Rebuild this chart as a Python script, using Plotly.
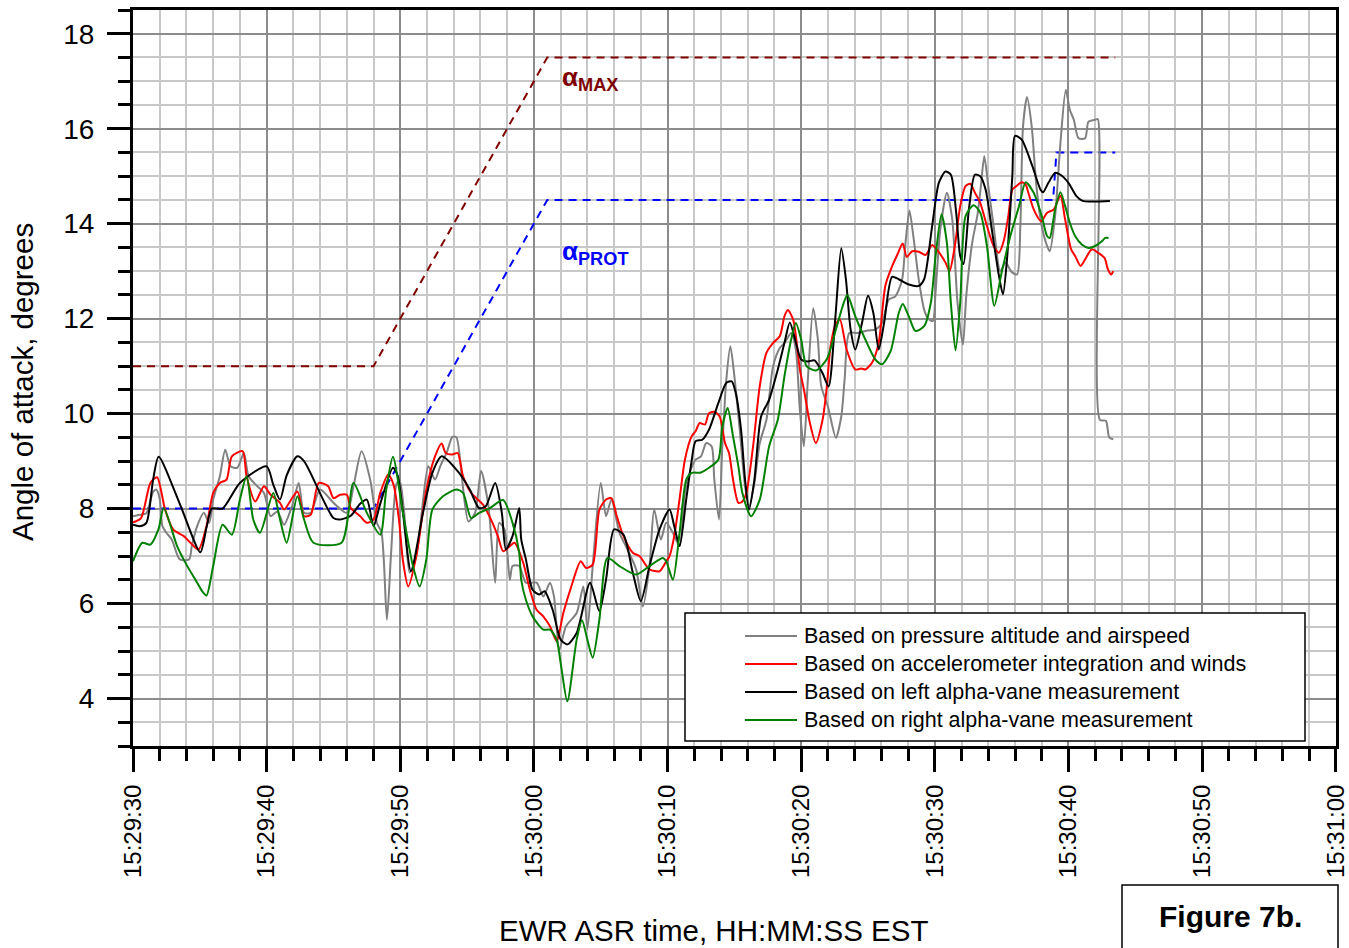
import pandas as pd
import plotly.graph_objects as go

# ---- time base: seconds after 15:29:30 EST ----
BASE = pd.Timestamp("2009-01-15 15:29:30")

# alpha limits (dashed)
ALPHA_MAX_T = [0, 18, 31, 73.5]
ALPHA_MAX_V = [11, 11, 17.5, 17.5]
ALPHA_PROT_T = [0, 18, 31, 68.85, 69.1, 73.5]
ALPHA_PROT_V = [8, 8, 14.5, 14.5, 15.5, 15.5]

# Based on pressure altitude and airspeed
PRESS_T = [0, 0.5, 1.0, 1.5, 1.75, 2.0, 2.2, 2.5, 2.9, 3.5, 4.2, 4.4, 4.8, 5.3, 5.7, 6.0, 6.5, 6.9,
           7.3, 7.8, 8.3, 8.65, 9.3, 9.8, 10.3, 10.8, 11.3, 11.9, 12.4, 12.8, 13.3, 14.0, 15.0, 16.0,
           16.5, 17.1, 17.75, 18.25, 18.6, 19.0, 19.3, 19.7, 19.95, 20.3, 20.7, 21.2, 21.6, 22.1,
           22.6, 23.0, 23.5, 23.9, 24.2, 24.6, 25.1, 25.6, 26.05, 26.6, 27.1, 27.4, 27.8, 28.2, 28.4,
           28.9, 29.4, 30.2, 30.7, 31.2, 31.5, 31.9, 32.4, 33.2, 33.7, 34.0, 34.4, 35.0, 35.4, 35.8,
           36.4, 37.0, 37.65, 38.15, 38.65, 39.0, 39.5, 39.9, 40.4, 40.9, 41.3, 41.65, 42.1, 42.5,
           42.9, 43.3, 43.5, 43.85, 44.1, 44.4, 44.7, 45.0, 45.4, 45.8, 46.1, 46.5, 46.9, 47.4, 47.9,
           48.4, 48.75, 49.25, 49.6, 49.9, 50.2, 50.5, 50.9, 51.25, 51.5, 52.0, 52.6, 53.0, 53.25,
           53.6, 54.2, 55.0, 55.55, 56.05, 56.55, 57.05, 57.55, 57.8, 58.1, 58.4, 58.8, 59.2, 59.5,
           59.85, 60.05, 60.4, 60.9, 61.3, 61.7, 62.1, 62.35, 62.8, 63.2, 63.45, 63.7, 64.0, 64.4,
           64.9, 65.3, 65.7, 66.15, 66.4, 66.6, 66.9, 67.25, 67.6, 68.0, 68.4, 68.6, 69.0, 69.4,
           69.8, 70.1, 70.4, 70.75, 71.25, 71.5, 72.0, 72.2, 72.35, 72.8, 73.05, 73.35]
PRESS_V = [7.84, 7.87, 7.9, 8.35, 8.4, 8.2, 7.63, 7.49, 7.35, 6.93, 6.93, 7.21, 7.63, 7.91, 7.7, 8.19,
           8.68, 9.24, 8.89, 8.86, 9.17, 8.68, 8.47, 8.33, 7.84, 7.94, 7.66, 8.05, 8.54, 7.91, 7.91,
           8.4, 8.12, 7.91, 8.47, 9.21, 8.61, 7.7, 7.49, 5.66, 7.0, 8.5, 8.6, 7.9, 6.65, 7.0, 7.9,
           8.89, 8.61, 8.9, 9.2, 9.51, 9.5, 8.68, 7.73, 7.91, 8.79, 8.05, 6.44, 7.7, 7.56, 6.5, 6.79,
           6.79, 6.44, 6.44, 6.15, 6.44, 6.15, 5.03, 5.52, 5.8, 6.36, 5.45, 6.79, 8.54, 7.84, 8.19,
           7.49, 7.14, 6.72, 5.94, 6.79, 7.98, 7.35, 7.7, 7.49, 7.21, 8.33, 8.75, 9.03, 9.1, 9.38,
           9.31, 8.61, 7.77, 9.31, 10.72, 11.42, 10.79, 9.66, 8.47, 8.05, 8.54, 9.38, 9.87, 11.0,
           11.38, 11.49, 11.7, 11.35, 10.08, 9.31, 10.72, 12.22, 11.56, 10.58, 10.15, 9.49, 9.94,
           10.72, 11.7, 11.7, 11.75, 11.77, 11.91, 12.4, 12.47, 12.82, 13.58, 14.28, 13.72, 12.82,
           12.19, 12.0, 11.95, 12.54, 13.86, 14.65, 14.1, 12.33, 11.45, 12.47, 13.6, 14.2, 14.8,
           15.42, 14.79, 13.95, 13.0, 13.18, 13.0, 12.93, 13.95, 16.05, 16.67, 16.05, 14.79, 13.95,
           13.53, 13.42, 14.16, 15.7, 16.82, 16.4, 16.19, 15.8, 15.8, 16.15, 16.19, 16.2, 9.87,
           9.85, 9.5, 9.46]

# Based on accelerometer integration and winds
ACCEL_T = [0, 0.6, 1.3, 1.8, 2.4, 3.0, 3.8, 4.3, 4.9, 5.5, 6.0, 6.5, 7.0, 7.4, 8.2, 8.5, 9.15, 9.8,
           10.3, 11.0, 11.3, 12.3, 12.8, 13.3, 13.9, 14.6, 15.0, 15.5, 16.0, 16.3, 17.0, 17.5, 18.0,
           18.5, 19.1, 19.5, 19.9, 20.2, 20.6, 21.2, 21.95, 22.6, 23.1, 23.4, 23.9, 24.3, 24.7, 25.3,
           26.2, 26.9, 27.3, 27.7, 28.2, 28.55, 29.2, 29.7, 30.2, 30.7, 31.2, 31.7, 32.2, 32.8, 33.5,
           33.9, 34.4, 34.9, 35.4, 35.8, 36.2, 36.7, 37.4, 37.9, 38.65, 39.4, 39.9, 40.15, 40.5,
           40.9, 41.3, 41.8, 42.1, 42.4, 42.8, 43.1, 43.5, 43.9, 44.3, 44.6, 44.9, 45.3, 45.6, 45.9,
           46.4, 46.9, 47.4, 47.9, 48.4, 48.75, 49.0, 49.4, 49.9, 50.25, 50.6, 51.1, 51.6, 51.9,
           52.2, 52.6, 52.9, 53.4, 54.05, 54.5, 54.8, 55.3, 55.8, 56.3, 56.8, 57.2, 57.6, 57.9, 58.3,
           58.8, 59.3, 59.8, 60.3, 60.8, 61.1, 61.5, 61.9, 62.3, 62.65, 63.0, 63.4, 63.9, 64.4, 64.8,
           65.15, 65.5, 65.8, 66.1, 66.5, 66.8, 67.0, 67.4, 67.95, 68.4, 68.9, 69.4, 69.75, 70.2,
           70.5, 70.9, 71.25, 71.75, 72.2, 72.7, 72.95, 73.2, 73.35]
ACCEL_V = [7.71, 7.8, 8.54, 8.66, 7.98, 7.56, 7.42, 7.28, 7.14, 7.63, 8.33, 8.54, 8.61, 9.1, 9.21,
           8.68, 8.15, 8.47, 8.29, 8.12, 7.98, 8.36, 7.84, 7.87, 8.54, 8.47, 8.22, 8.29, 8.29, 8.01,
           7.84, 7.7, 7.77, 8.33, 8.72, 8.5, 7.77, 6.9, 6.36, 7.0, 8.4, 9.1, 9.37, 9.17, 9.14, 9.17,
           8.68, 8.33, 8.08, 7.7, 7.42, 7.1, 7.21, 7.28, 6.86, 6.29, 5.87, 5.73, 5.52, 5.21, 5.8,
           6.36, 6.89, 6.75, 6.82, 7.98, 8.19, 8.22, 7.84, 7.42, 7.07, 7.0, 6.72, 6.68, 6.89, 7.0,
           7.42, 8.2, 9.03, 9.52, 9.63, 9.8, 9.77, 10.01, 10.04, 9.94, 9.38, 9.17, 8.61, 8.12, 8.15,
           8.33, 9.31, 10.58, 11.28, 11.49, 11.63, 12.05, 12.18, 11.98, 10.93, 10.44, 9.87, 9.38,
           9.87, 10.51, 11.42, 11.9, 11.98, 11.35, 10.93, 10.95, 10.93, 11.07, 11.49, 12.7, 13.1,
           13.35, 13.58, 13.3, 13.42, 13.41, 13.34, 13.55, 13.4, 13.18, 13.0, 13.53, 14.37, 14.79,
           14.84, 14.65, 14.44, 13.95, 13.53, 13.39, 13.63, 14.16, 14.72, 14.79, 14.87, 14.82,
           14.65, 14.3, 14.05, 14.23, 14.3, 14.59, 14.09, 13.46, 13.32, 13.11, 13.25, 13.46, 13.39,
           13.28, 13.04, 12.93, 13.0]

# Based on left alpha-vane measurement
LEFT_T = [0, 0.5, 1.0, 1.5, 1.92, 3.5, 5.04, 5.5, 5.9, 6.7, 8.0, 10.0, 10.5, 11.0, 11.5, 12.3, 12.8,
          15.0, 15.5, 16.3, 17.0, 17.5, 18.0, 18.5, 19.45, 19.8, 20.2, 20.8, 21.7, 22.4, 23.1,
          24.4, 25.2, 25.9, 26.4, 27.1, 27.6, 27.9, 28.4, 28.9, 29.05, 29.4, 29.9, 30.4, 30.8,
          31.4, 32.0, 32.5, 33.2, 34.2, 34.9, 35.4, 36.0, 36.7, 37.4, 38.0, 38.65, 39.4, 40.15,
          40.5, 40.9, 41.4, 41.8, 42.1, 42.6, 43.1, 43.8, 44.4, 44.8, 45.1, 45.5, 45.8, 46.1, 46.5,
          47.0, 47.6, 48.25, 48.75, 49.15, 49.6, 50.0, 50.5, 51.0, 51.6, 52.05, 52.55, 53.0, 53.35,
          53.7, 54.05, 54.55, 55.0, 55.4, 55.8, 56.2, 56.8, 57.3, 58.05, 58.8, 59.2, 59.8, 60.3,
          60.8, 61.2, 61.6, 61.9, 62.15, 62.55, 63.0, 63.4, 63.8, 64.3, 64.8, 65.1, 65.4, 65.8,
          66.0, 66.5, 67.3, 67.9, 68.1, 68.5, 69.0, 69.4, 70.0, 70.6, 71.05, 73.1]
LEFT_V = [7.66, 7.63, 7.7, 8.6, 9.09, 8.1, 7.08, 7.6, 8.0, 8.0, 8.54, 8.89, 8.5, 8.19, 8.7, 9.1, 9.0,
          7.8, 7.77, 7.85, 8.1, 8.19, 7.63, 8.1, 8.86, 8.7, 7.91, 6.68, 7.91, 8.75, 9.1, 8.75, 8.4,
          8.01, 8.05, 8.54, 7.91, 7.14, 7.42, 8.01, 7.35, 6.93, 6.29, 6.19, 6.26, 5.87, 5.24, 5.14,
          5.38, 6.44, 5.84, 6.51, 7.56, 7.45, 6.65, 6.05, 6.79, 7.56, 7.98, 7.63, 7.21, 8.2, 9.0,
          9.42, 9.45, 9.66, 10.22, 10.65, 10.68, 10.44, 9.66, 8.61, 7.98, 8.61, 9.94, 10.29, 10.93,
          11.49, 11.92, 11.5, 11.14, 11.1, 11.12, 10.85, 10.57, 12.0, 13.48, 12.82, 11.77, 11.35,
          11.91, 12.48, 12.12, 11.35, 11.9, 12.88, 12.83, 12.72, 12.69, 12.83, 13.95, 14.86, 15.1,
          15.03, 14.23, 13.32, 13.15, 14.3, 15.03, 15.0, 14.72, 13.81, 12.9, 12.51, 13.25, 15.0,
          15.85, 15.77, 15.21, 14.72, 14.66, 14.86, 15.07, 15.03, 14.86, 14.58, 14.48, 14.48]

# Based on right alpha-vane measurement
RIGHT_T = [0, 0.7, 1.3, 1.9, 2.3, 3.3, 4.0, 4.8, 5.2, 5.5, 6.0, 6.7, 7.4, 8.0, 8.5, 9.0, 9.5, 10.5,
           11.0, 11.5, 12.3, 12.8, 13.5, 15.6, 16.5, 17.5, 18.5, 18.95, 19.45, 20.2, 20.95, 21.45,
           21.95, 22.4, 23.2, 24.2, 24.7, 25.3, 25.9, 26.7, 27.7, 28.4, 28.9, 29.05, 29.4, 29.9,
           30.7, 31.2, 31.7, 32.0, 32.5, 33.2, 33.6, 34.0, 34.4, 34.9, 35.5, 36.4, 37.65, 38.65,
           39.65, 39.9, 40.4, 40.9, 41.4, 41.8, 42.5, 43.1, 43.8, 44.1, 44.5, 44.9, 45.3, 45.6,
           46.25, 46.9, 47.6, 48.25, 48.75, 49.25, 49.6, 50.0, 50.4, 51.1, 51.9, 52.6, 53.1, 53.45,
           54.05, 54.8, 55.55, 56.05, 56.7, 57.3, 57.6, 58.05, 58.55, 59.2, 59.7, 60.05, 60.5, 60.9,
           61.2, 61.55, 61.9, 62.3, 62.9, 63.4, 63.9, 64.45, 65.0, 65.65, 66.3, 66.8, 67.4, 68.0,
           68.4, 68.6, 69.0, 69.4, 69.75, 70.1, 70.5, 71.0, 71.5, 72.0, 72.5, 72.75, 73.0]
RIGHT_V = [6.89, 7.28, 7.24, 7.56, 8.01, 7.21, 6.82, 6.44, 6.25, 6.17, 6.79, 7.66, 7.45, 8.19, 8.68,
           7.77, 7.49, 8.33, 7.77, 7.28, 8.26, 7.77, 7.28, 7.28, 8.54, 7.91, 7.45, 8.4, 9.09, 7.91,
           6.79, 6.36, 6.93, 7.98, 8.26, 8.4, 8.33, 7.8, 7.91, 8.01, 8.18, 7.7, 7.07, 6.5, 6.08,
           5.73, 5.45, 5.45, 5.24, 4.75, 3.94, 5.24, 5.65, 5.24, 4.86, 5.66, 6.96, 6.79, 6.61, 6.79,
           6.96, 6.89, 6.5, 7.49, 8.61, 8.75, 8.76, 8.86, 9.03, 9.73, 10.12, 9.52, 8.89, 8.33, 7.84,
           8.19, 9.31, 9.87, 10.79, 11.56, 11.91, 11.56, 11.0, 10.91, 11.14, 11.77, 12.26, 12.5,
           12.05, 11.56, 11.14, 11.04, 11.32, 12.12, 12.31, 12.05, 11.74, 11.84, 12.33, 13.3, 14.2,
           13.6, 12.33, 11.33, 12.33, 14.16, 14.39, 14.23, 13.53, 12.27, 12.97, 13.74, 14.37, 14.87,
           14.65, 14.16, 13.74, 13.7, 14.3, 14.66, 14.37, 14.02, 13.74, 13.56, 13.49, 13.53, 13.63,
           13.7, 13.7]

SERIES = [
    ("Based on pressure altitude and airspeed", PRESS_T, PRESS_V, "#808080"),
    ("Based on accelerometer integration and winds", ACCEL_T, ACCEL_V, "#ff0000"),
    ("Based on left alpha-vane measurement", LEFT_T, LEFT_V, "#000000"),
    ("Based on right alpha-vane measurement", RIGHT_T, RIGHT_V, "#008000"),
]

X_START, X_END = 0, 90.02
Y_MIN, Y_MAX = 3, 18.5

FONT = "Liberation Sans, Arial, sans-serif"
W, H = 1349, 948
ML, MR, MT, MB = 133, 13, 10, 202
PW, PH = W - ML - MR, H - MT - MB


def to_time(ts):
    return BASE + pd.to_timedelta(ts, unit="s")


def px(xp):
    return (xp - ML) / PW


def py(yp):
    return (MT + PH - yp) / PH


fig = go.Figure()

fig.add_trace(go.Scatter(x=to_time(ALPHA_MAX_T), y=ALPHA_MAX_V, mode="lines", showlegend=False,
                         line=dict(color="#800000", width=2, dash="8px,6px")))
fig.add_trace(go.Scatter(x=to_time(ALPHA_PROT_T), y=ALPHA_PROT_V, mode="lines", showlegend=False,
                         line=dict(color="#0000ff", width=2, dash="8px,6px")))

for name, t, v, color in SERIES:
    fig.add_trace(go.Scatter(x=to_time(t), y=v, mode="lines", name=name, showlegend=False,
                             line=dict(color=color, width=2, shape="spline", smoothing=0.7)))

axis_common = dict(
    showline=True, linecolor="black", linewidth=3, mirror=True,
    ticks="outside", ticklen=23, tickwidth=3, tickcolor="black",
    showgrid=True, gridcolor="#8c8c8c", gridwidth=2, zeroline=False,
    automargin=False,
)

fig.update_xaxes(
    type="date", range=[to_time(X_START), to_time(X_END)],
    dtick=10000, tick0=BASE, tickformat="%H:%M:%S", tickangle=-90,
    ticklabelstandoff=3, ticklabeloverflow="allow",
    tickfont=dict(family=FONT, size=24, color="black"),
    minor=dict(dtick=2000, tick0=BASE, ticks="outside", ticklen=12, tickwidth=3, tickcolor="black",
               showgrid=True, gridcolor="#c8c8c8", gridwidth=2),
    **axis_common,
)
fig.update_yaxes(
    range=[Y_MIN, Y_MAX], dtick=2, tick0=0, ticklabelstandoff=7,
    tickfont=dict(family=FONT, size=28, color="black"),
    minor=dict(dtick=0.5, tick0=0, ticks="outside", ticklen=12, tickwidth=3, tickcolor="black",
               showgrid=True, gridcolor="#c8c8c8", gridwidth=2),
    **axis_common,
)

annotations = [
    dict(x=px(713), y=py(930), xref="paper", yref="paper", text="EWR ASR time, HH:MM:SS EST",
         showarrow=False, font=dict(family=FONT, size=29.5, color="black"),
         xanchor="center", yanchor="middle"),
    dict(x=px(22), y=py(382), xref="paper", yref="paper", text="Angle of attack, degrees",
         showarrow=False, textangle=-90, font=dict(family=FONT, size=29.5, color="black"),
         xanchor="center", yanchor="middle"),
    dict(x=px(560), y=py(60), xref="paper", yref="paper", text="<b>α<sub>MAX</sub></b>",
         showarrow=False, font=dict(family=FONT, size=26, color="#800000"),
         xanchor="left", yanchor="top"),
    dict(x=px(560), y=py(234), xref="paper", yref="paper", text="<b>α<sub>PROT</sub></b>",
         showarrow=False, font=dict(family=FONT, size=26, color="#0000ff"),
         xanchor="left", yanchor="top"),
    dict(x=px(1230), y=py(916), xref="paper", yref="paper", text="<b>Figure 7b.</b>",
         showarrow=False, font=dict(family=FONT, size=30, color="black"),
         xanchor="center", yanchor="middle"),
]

shapes = [
    # legend frame
    dict(type="rect", xref="paper", yref="paper", x0=px(685), x1=px(1305), y0=py(741), y1=py(613),
         line=dict(color="black", width=1.5), fillcolor="white", layer="above"),
    # figure label frame
    dict(type="rect", xref="paper", yref="paper", x0=px(1122), x1=px(1338), y0=py(960), y1=py(885),
         line=dict(color="black", width=1.5), fillcolor="white", layer="above"),
]

row_y = [636, 664, 692, 720]
for (name, _, _, color), ry in zip(SERIES, row_y):
    shapes.append(dict(type="line", xref="paper", yref="paper", x0=px(745), x1=px(797),
                       y0=py(ry), y1=py(ry), line=dict(color=color, width=2), layer="above"))
    annotations.append(dict(x=px(802), y=py(ry), xref="paper", yref="paper", text=name,
                            showarrow=False, font=dict(family=FONT, size=21.5, color="black"),
                            xanchor="left", yanchor="middle"))

fig.update_layout(
    width=W, height=H,
    margin=dict(l=ML, r=MR, t=MT, b=MB, autoexpand=False),
    paper_bgcolor="white", plot_bgcolor="white",
    showlegend=False,
    annotations=annotations, shapes=shapes,
)

fig.write_html("out.html")
